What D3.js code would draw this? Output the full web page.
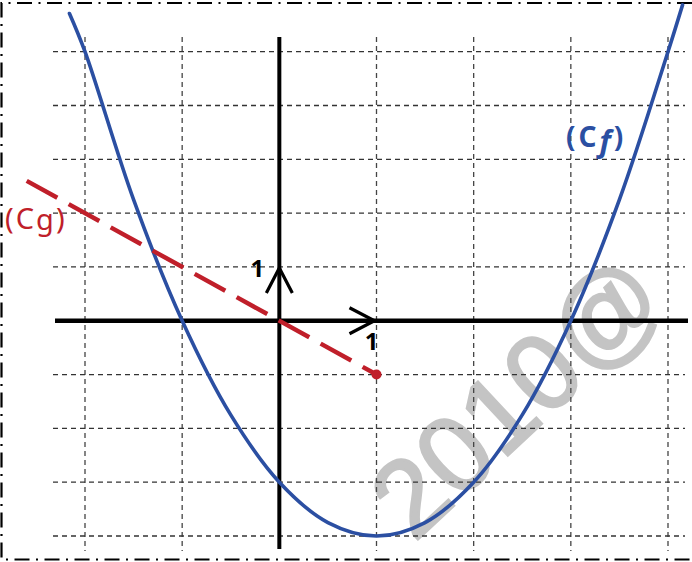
<!DOCTYPE html>
<html>
<head>
<meta charset="utf-8">
<script src="https://cdn.jsdelivr.net/npm/d3@7"></script>
<style>
	html, body { margin: 0; padding: 0; background: #fff; }
	svg { display: block; }
</style>
</head>
<body>
<svg id="canvas" width="692" height="562"></svg>
<script>
// grid values
let xTicks = [-2, -1, 1, 2, 3, 4];
let yTicks = [5, 4, 3, 2, 1, -1, -2, -3, -4];

let fX = [-2.16, -2, -1.5, -1, -0.5, 0, 0.5, 1, 1.5, 2, 2.5, 3, 3.5, 4, 4.15];
let fY = [5.71, 5, 2.25, 0, -1.75, -3, -3.75, -4, -3.75, -3, -1.75, 0, 2.25, 5, 5.87];

// segment Cg
let gX = [-2.6, 1];
let gY = [2.6, -1];

let canvas = d3.select('#canvas');

let xScale = d3.scaleLinear().domain([-2, 4]).range([85, 668]);
let yScale = d3.scaleLinear().domain([5, -4]).range([51.7, 536]);

let blue = '#2b4fa2';
let red = '#c01f2a';

// watermark
canvas.append('text')
	.attr('transform', 'translate(414,543) rotate(-43)')
	.attr('font-family', 'Liberation Sans')
	.attr('font-size', 108)
	.attr('fill', '#c4c4c4')
	.attr('stroke', '#c4c4c4')
	.attr('stroke-width', 2.5)
	.text('2010@');

// grid
canvas.selectAll('line.vgrid')
	.data(xTicks)
	.enter()
	.append('line')
	.attr('class', 'vgrid')
	.attr('x1', (d) => xScale(d))
	.attr('x2', (d) => xScale(d))
	.attr('y1', 37)
	.attr('y2', 551)
	.attr('stroke', '#444')
	.attr('stroke-width', 1.3)
	.attr('stroke-dasharray', '5,4');

canvas.selectAll('line.hgrid')
	.data(yTicks)
	.enter()
	.append('line')
	.attr('class', 'hgrid')
	.attr('x1', 53)
	.attr('x2', 685)
	.attr('y1', (d) => yScale(d))
	.attr('y2', (d) => yScale(d))
	.attr('stroke', '#333')
	.attr('stroke-width', 1.3)
	.attr('stroke-dasharray', '5,4');

// frame
canvas.append('path')
	.attr('d', 'M692,3H1.5V559.5H692')
	.attr('fill', 'none')
	.attr('stroke', '#000')
	.attr('stroke-width', 2.2)
	.attr('stroke-dasharray', '15,6.5,2,6.5');

// axes
canvas.append('line')
	.attr('x1', 55)
	.attr('x2', 688)
	.attr('y1', yScale(0))
	.attr('y2', yScale(0))
	.attr('stroke', '#000')
	.attr('stroke-width', 4.5);

canvas.append('line')
	.attr('x1', xScale(0))
	.attr('x2', xScale(0))
	.attr('y1', 37)
	.attr('y2', 549)
	.attr('stroke', '#000')
	.attr('stroke-width', 4);

// unit arrows
let ax = xScale(1) - 2;
let ay = yScale(0);
canvas.append('path')
	.attr('d', `M${ax - 25},${ay - 13}L${ax},${ay}L${ax - 25},${ay + 13}`)
	.attr('fill', 'none')
	.attr('stroke', '#000')
	.attr('stroke-width', 3.2);

let bx = xScale(0);
let by = yScale(1) + 1;
canvas.append('path')
	.attr('d', `M${bx - 13},${by + 25}L${bx},${by}L${bx + 13},${by + 25}`)
	.attr('fill', 'none')
	.attr('stroke', '#000')
	.attr('stroke-width', 3.2);

canvas.append('text')
	.attr('x', xScale(0) - 22)
	.attr('y', yScale(1) + 10)
	.attr('text-anchor', 'middle')
	.attr('font-family', 'Noto Sans')
	.attr('font-weight', 'bold')
	.attr('font-size', 24)
	.attr('fill', '#000')
	.text('1');

canvas.append('text')
	.attr('x', xScale(1) - 5)
	.attr('y', yScale(0) + 29)
	.attr('text-anchor', 'middle')
	.attr('font-family', 'Noto Sans')
	.attr('font-weight', 'bold')
	.attr('font-size', 24)
	.attr('fill', '#000')
	.text('1');

// curve Cf
let fPoints = fX.map((x, i) => [x, fY[i]]);
canvas.append('path')
	.datum(fPoints)
	.attr('d', d3.line()
		.x((d) => xScale(d[0]))
		.y((d) => yScale(d[1]))
		.curve(d3.curveCatmullRom))
	.attr('fill', 'none')
	.attr('stroke', blue)
	.attr('stroke-width', 3.6)
	.attr('stroke-linecap', 'round');

// segment Cg
let gPoints = gX.map((x, i) => [x, gY[i]]);
canvas.append('path')
	.datum(gPoints)
	.attr('d', d3.line()
		.x((d) => xScale(d[0]))
		.y((d) => yScale(d[1])))
	.attr('fill', 'none')
	.attr('stroke', red)
	.attr('stroke-width', 4.5)
	.attr('stroke-dasharray', '35,13');

canvas.append('circle')
	.attr('cx', xScale(gX[1]))
	.attr('cy', yScale(gY[1]))
	.attr('r', 5)
	.attr('fill', red);

// labels
let cg = canvas.append('text')
	.attr('x', 5)
	.attr('y', 229)
	.attr('font-family', 'Noto Sans')
	.attr('font-size', 29)
	.attr('letter-spacing', 2)
	.attr('fill', red);
cg.append('tspan').text('(C');
cg.append('tspan').attr('dy', 1).text('g');
cg.append('tspan').attr('dy', -1).text(')');

let cf = canvas.append('text')
	.attr('x', 566)
	.attr('y', 147)
	.attr('font-family', 'Noto Sans')
	.attr('font-weight', 'bold')
	.attr('font-size', 28)
	.attr('letter-spacing', 3)
	.attr('fill', blue);
cf.append('tspan').text('(C');
cf.append('tspan').attr('dy', 5).attr('font-style', 'italic').attr('font-size', 30).text('f');
cf.append('tspan').attr('dy', -5).text(')');
</script>
</body>
</html>
